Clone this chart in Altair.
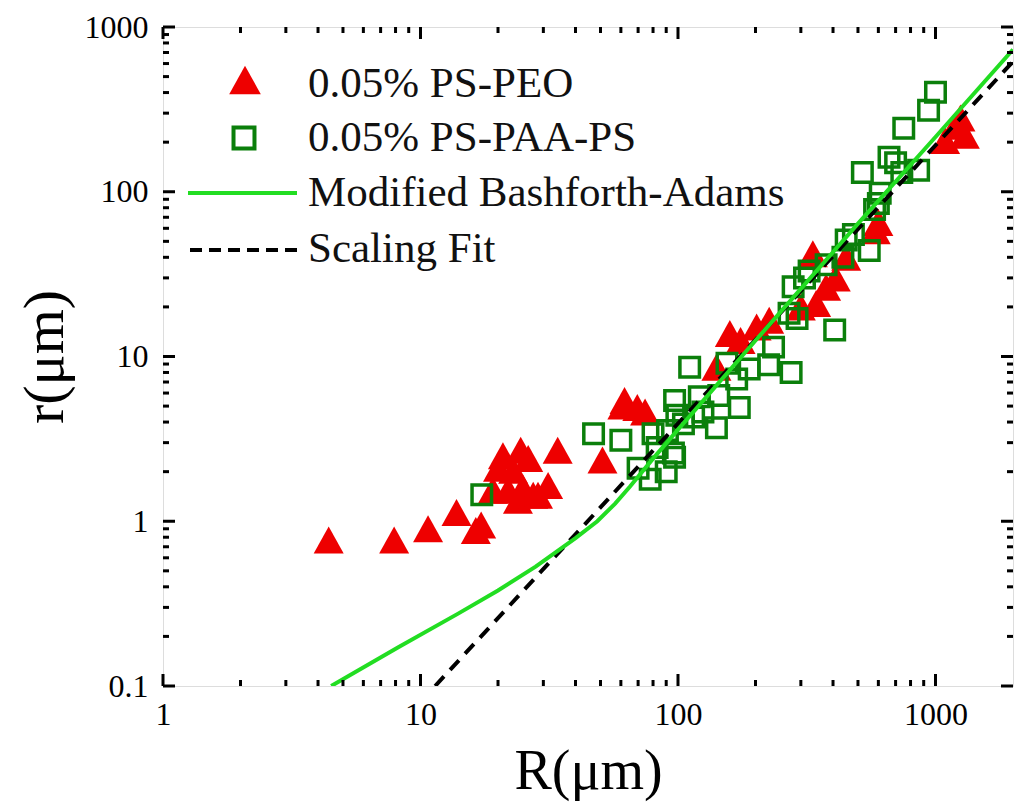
import altair as alt
import pandas as pd

# ---------------- data ----------------
peo_R = [4.4, 7.9, 10.7, 13.8, 16.4, 17.2, 19.1, 20.0, 20.9, 21.9, 22.9, 23.9, 24.5, 25.0,
         26.2, 27.4, 28.6, 31.3, 34.1, 50.9, 60.8, 62, 69.5, 74.5, 141, 159, 175, 202, 226,
         300, 334, 344, 376, 410, 450, 586, 600, 1090, 1195, 1250, 1300]
peo_r = [0.77, 0.77, 0.9, 1.13, 0.88, 0.95, 1.54, 2.1, 2.5, 1.54, 2.04, 1.34, 2.7, 1.59,
         2.4, 1.44, 1.44, 1.65, 2.7, 2.35, 5.0, 5.4, 4.9, 4.6, 8.6, 13.8, 12.5, 15.1, 16.6,
         20, 42, 21, 26.3, 30, 40, 58, 65, 205, 250, 280, 220]

paa_R = [17.3, 47, 60, 70, 78, 80, 83, 90, 91, 96, 97, 99, 97, 105, 111, 115, 121, 125,
         141, 144, 155, 169, 173, 189, 225, 235, 270, 275, 280, 290, 310, 323, 376, 406,
         437, 450, 480, 553, 580, 600, 610, 520, 660, 700, 740, 753, 860, 940, 1000]
paa_r = [1.45, 3.4, 3.1, 2.1, 1.8, 3.4, 2.8, 2.0, 3.56, 2.6, 5.4, 4.4, 2.45, 3.9, 8.6, 4.3,
         5.7, 4.6, 3.7, 5.8, 9.1, 7.3, 4.9, 8.4, 8.9, 11.4, 18.3, 8.0, 26.5, 17, 30, 33, 36,
         14.5, 40, 51, 55, 44, 78, 85, 98, 131, 162, 150, 131, 243, 135, 312, 402]

mba_R = [4.5, 8.2, 14, 20, 28, 40, 48.6, 57, 65, 80, 100, 200, 500, 1000, 2000]
mba_r = [0.1, 0.172, 0.275, 0.38, 0.53, 0.79, 1.0, 1.28, 1.62, 2.4, 3.6, 12.5, 64, 215, 730]

fit_R = [11.4, 2000]
fit_r = [0.1, 617]

x_major = [1, 10, 100, 1000]
x_minor = [2, 3, 4, 5, 6, 7, 8, 9, 20, 30, 40, 50, 60, 70, 80, 90,
           200, 300, 400, 500, 600, 700, 800, 900]
y_major = [0.1, 1, 10, 100, 1000]
y_minor = [0.2, 0.3, 0.4, 0.5, 0.6, 0.7, 0.8, 0.9, 2, 3, 4, 5, 6, 7, 8, 9,
           20, 30, 40, 50, 60, 70, 80, 90, 200, 300, 400, 500, 600, 700, 800, 900]

legend_labels = ["0.05% PS-PEO", "0.05% PS-PAA-PS", "Modified Bashforth-Adams", "Scaling Fit"]

# ---------------- styling ----------------
FONT = "Liberation Serif"
W, H = 850, 659
RED = "#ee0000"
DKGREEN = "#0b7f0b"
LGREEN = "#22dd22"
TRI = "M-1,0.9L0,-0.9L1,0.9Z"

xs = alt.Scale(type="log", domain=[1, 2000], nice=False)
ys = alt.Scale(type="log", domain=[0.1, 1000], nice=False)

peo = pd.DataFrame({"R": peo_R, "r": peo_r})
paa = pd.DataFrame({"R": paa_R, "r": paa_r})
mba = pd.DataFrame({"R": mba_R, "r": mba_r})
fit = pd.DataFrame({"R": fit_R, "r": fit_r})

xaxis = alt.Axis(values=x_major, format="~g", ticks=False, tickSize=0, domain=False, grid=False,
                 labelFont=FONT, labelFontSize=32, labelColor="black", labelPadding=13,
                 labelFlush=False,
                 title="R(μm)", titleFont=FONT, titleFontSize=56, titleFontWeight="normal",
                 titleColor="black", titleBaseline="alphabetic", titleY=102)
yaxis = alt.Axis(values=y_major, format="~g", ticks=False, tickSize=0, domain=False, grid=False,
                 labelFont=FONT, labelFontSize=32, labelColor="black", labelPadding=15,
                 labelFlush=False,
                 title="r(μm)", titleFont=FONT, titleFontSize=58, titleFontWeight="normal",
                 titleColor="black", titleAngle=270, titleBaseline="middle", titleX=-118)

tri_layer = alt.Chart(peo).mark_point(shape=TRI, filled=True, size=900, color=RED, opacity=1).encode(
    x=alt.X("R:Q", scale=xs, axis=xaxis),
    y=alt.Y("r:Q", scale=ys, axis=yaxis),
)
sq_layer = alt.Chart(paa).mark_point(shape="square", filled=False, size=380, strokeWidth=3.5,
                                     color=DKGREEN, opacity=1).encode(
    x=alt.X("R:Q", scale=xs), y=alt.Y("r:Q", scale=ys))
mba_layer = alt.Chart(mba).mark_line(color=LGREEN, strokeWidth=4, clip=True).encode(
    x=alt.X("R:Q", scale=xs), y=alt.Y("r:Q", scale=ys))
fit_layer = alt.Chart(fit).mark_line(color="black", strokeWidth=4, strokeDash=[13, 9], clip=True).encode(
    x=alt.X("R:Q", scale=xs), y=alt.Y("r:Q", scale=ys))

# ---------------- inward ticks on all four sides ----------------
def xticks(vals, length):
    d = pd.DataFrame({"t": vals})
    bottom = alt.Chart(d).mark_rule(color="black", strokeWidth=3).encode(
        x=alt.X("t:Q", scale=xs), y=alt.value(H), y2=alt.value(H - length))
    top = alt.Chart(d).mark_rule(color="black", strokeWidth=3).encode(
        x=alt.X("t:Q", scale=xs), y=alt.value(0), y2=alt.value(length))
    return [bottom, top]

def yticks(vals, length):
    d = pd.DataFrame({"t": vals})
    left = alt.Chart(d).mark_rule(color="black", strokeWidth=3).encode(
        y=alt.Y("t:Q", scale=ys), x=alt.value(0), x2=alt.value(length))
    right = alt.Chart(d).mark_rule(color="black", strokeWidth=3).encode(
        y=alt.Y("t:Q", scale=ys), x=alt.value(W), x2=alt.value(W - length))
    return [left, right]

tick_layers = xticks(x_major, 12) + xticks(x_minor, 6) + yticks(y_major, 12) + yticks(y_minor, 6)

# ---------------- legend (inside top-left) ----------------
one = pd.DataFrame({"k": [0]})
leg = [
    alt.Chart(one).mark_point(shape=TRI, filled=True, size=1000, color=RED, opacity=1).encode(
        x=alt.value(82), y=alt.value(53)),
    alt.Chart(one).mark_point(shape="square", filled=False, size=440, strokeWidth=4,
                              color=DKGREEN, opacity=1).encode(x=alt.value(81), y=alt.value(111)),
    alt.Chart(one).mark_rule(color=LGREEN, strokeWidth=4).encode(
        x=alt.value(25), x2=alt.value(134), y=alt.value(166)),
    alt.Chart(one).mark_rule(color="black", strokeWidth=4, strokeDash=[12, 7]).encode(
        x=alt.value(27), x2=alt.value(134), y=alt.value(223)),
]
for lab, yy in zip(legend_labels, [57, 111, 166, 222]):
    leg.append(alt.Chart(one).mark_text(font=FONT, fontSize=43, align="left", baseline="middle",
                                        color="#111111").encode(
        x=alt.value(145), y=alt.value(yy), text=alt.value(lab)))

chart = alt.layer(tri_layer, sq_layer, fit_layer, mba_layer, *tick_layers, *leg).properties(
    width=W, height=H,
    autosize=alt.AutoSizeParams(type="none"),
    padding={"left": 163, "top": 27, "right": 1, "bottom": 117},
).configure_view(stroke="black", strokeWidth=3).configure(background="white")

chart.save("out.html", embed_options={"renderer": "svg", "actions": False})
